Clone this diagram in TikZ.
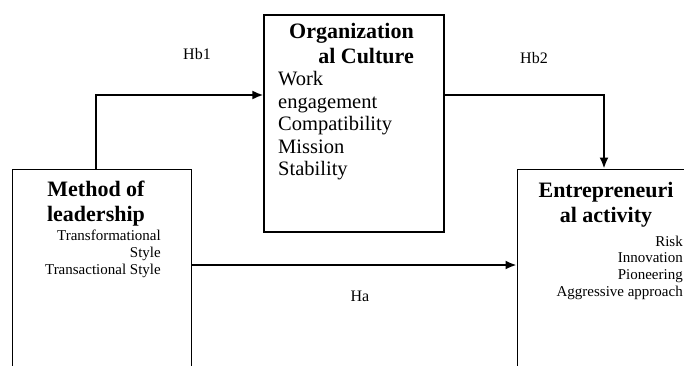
\documentclass[tikz,border=0pt]{standalone}
\usepackage{fontspec}
\setmainfont{Liberation Serif}
\usepackage{tikz}
\usetikzlibrary{arrows.meta,positioning,calc}

\begin{document}
\begin{tikzpicture}[>=Latex,x=1pt,y=-1pt]
  \tikzstyle{frame}=[draw,line width=0.9pt,inner sep=0pt]
  \tikzstyle{head}=[inner sep=0pt,font=\fontsize{22}{25}\selectfont\bfseries]
  \tikzstyle{items}=[inner sep=0pt,font=\fontsize{15}{17}\selectfont]
  \tikzstyle{arr}=[-{Latex[length=11pt,width=9pt]},line width=2pt]
  \tikzstyle{hyp}=[inner sep=0pt,font=\fontsize{16}{18}\selectfont]
  \clip (0,0) rectangle (684,365);
  % boxes
  \node[frame,minimum width=179pt,minimum height=216pt] (lead) at (101.5,277) {};
  \node[frame,line width=1.2pt,minimum width=180pt,minimum height=217pt] (org) at (354,123.5) {};
  \node[frame,minimum width=183pt,minimum height=216pt] (ent) at (608.5,277) {};
  % texts
  \node[head,align=center,anchor=north] (leadhead) at (96,181) {Method of\\leadership};
  \node[items,align=right,anchor=north east] (leaditems) at (161,229.5)
  {Transformational\\Style\\Transactional Style};
  \node[head,align=right,anchor=north east] (orghead) at (414,23.5) {Organization\\al Culture};
  \node[items,font=\fontsize{20.5}{22.5}\selectfont,align=left,anchor=north west] (orgitems) at (278,71.5)
  {Work\\engagement\\Compatibility\\Mission\\Stability};
  \node[head,align=center,anchor=north] (enthead) at (606,182.5) {Entrepreneuri\\al activity};
  \node[items,font=\fontsize{15}{16.7}\selectfont,align=right,anchor=north east] (entitems) at (683,235.5)
  {Risk\\Innovation\\Pioneering\\Aggressive approach};
  % hypotheses
  \draw[arr] ([xshift=-5.5pt]lead.north) |- ([yshift=28.5pt]org.west);
  \draw[arr] ([yshift=28.5pt]org.east) -| ([xshift=-4.5pt]ent.north);
  \draw[arr] ([yshift=12pt]lead.east) -- ([yshift=12pt]ent.west);
  \node[hyp] (hb1) at (197,54.5) {Hb1};
  \node[hyp] (hb2) at (534,58.5) {Hb2};
  \node[hyp] (ha) at (360,296) {Ha};
\end{tikzpicture}
\end{document}
